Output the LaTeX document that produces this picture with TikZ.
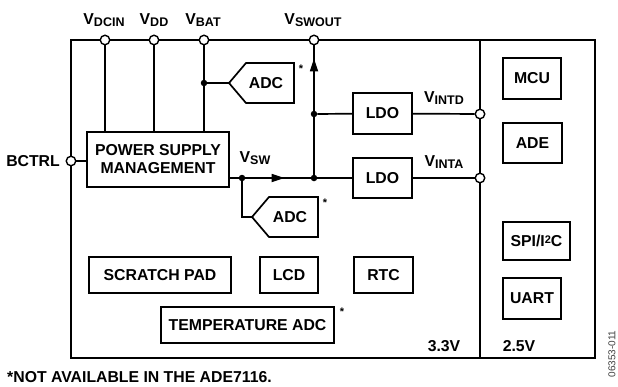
\documentclass[tikz,border=0pt]{standalone}
\usepackage{fontspec}
\setmainfont{Liberation Sans}
\usetikzlibrary{arrows.meta,decorations.markings}
\newcommand\Vsub[1]{V\raisebox{-2pt}{\fontsize{12.5}{12.5}\selectfont #1}}
\begin{document}
\begin{tikzpicture}[x=1pt,y=-1pt,
  font=\fontsize{15.8}{18}\selectfont\bfseries,
  ln/.style={line width=1.7pt},
  blk/.style={draw, line width=1.7pt, inner sep=0pt, align=center},
  pinc/.style={circle, draw, fill=white, line width=1.4pt, inner sep=0pt, minimum size=9.5pt},
  jdot/.style={circle, fill, inner sep=0pt, minimum size=6.5pt},
  lbl/.style={inner sep=0pt},
  astx/.style={inner sep=0pt, font=\fontsize{11}{11}\selectfont\bfseries},
  arrowat/.style={postaction={decorate}, decoration={markings, mark=at position #1 with {\arrow{Triangle[length=13pt,width=8pt]}}}}
]
\useasboundingbox (0,0) rectangle (618,386);

% frame and divider
\draw[ln] (71,40) rectangle (595,358);
\draw[ln] (480,40) -- (480,358);

% pins
\node[pinc] (pdcin) at (105,40) {};
\node[pinc] (pdd) at (154,40) {};
\node[pinc] (pbat) at (204,40) {};
\node[pinc] (pswout) at (314,40) {};
\node[pinc] (pbctrl) at (71,161) {};
\node[pinc] (pintd) at (480,114) {};
\node[pinc] (pinta) at (480,178) {};

% pin labels
\node[lbl] (ldcin) at (104,20) {\Vsub{DCIN}};
\node[lbl] (ldd) at (154,20) {\Vsub{DD}};
\node[lbl] (lbat) at (203,20) {\Vsub{BAT}};
\node[lbl] (lswout) at (313,20) {\Vsub{SWOUT}};
\node[lbl, anchor=east] (lbctrl) at (60,161) {BCTRL};
\node[lbl] (lintd) at (444,98.5) {\Vsub{INTD}};
\node[lbl] (linta) at (444,162) {\Vsub{INTA}};
\node[lbl] (lsw) at (255,158) {\Vsub{SW}};

% blocks
\node[blk, minimum width=142pt, minimum height=55pt] (psm) at (158,159.5) {POWER SUPPLY\\MANAGEMENT};
\node[blk, minimum width=59pt, minimum height=41pt] (ldo1) at (382.5,113.5) {LDO};
\node[blk, minimum width=59pt, minimum height=40pt] (ldo2) at (382.5,178) {LDO};
\node[blk, minimum width=58pt, minimum height=41pt] (mcu) at (532,78.5) {MCU};
\node[blk, minimum width=59pt, minimum height=40pt] (ade) at (532.5,143) {ADE};
\node[blk, minimum width=67pt, minimum height=38pt] (spi) at (536.5,241) {SPI/I\raisebox{3pt}{\fontsize{11}{11}\selectfont 2}C};
\node[blk, minimum width=58pt, minimum height=41pt] (uart) at (532,298.5) {UART};
\node[blk, minimum width=142pt, minimum height=36pt] (scratch) at (160,275) {SCRATCH PAD};
\node[blk, minimum width=58pt, minimum height=36pt] (lcd) at (289,275) {LCD};
\node[blk, minimum width=59pt, minimum height=36pt] (rtc) at (383.5,275) {RTC};
\node[blk, minimum width=173pt, minimum height=36pt] (temp) at (247.5,325) {TEMPERATURE ADC};

% ADC pentagons
\coordinate (adc1tip) at (229,83);
\draw[ln, line join=miter] (adc1tip) -- (246,63) -- (294,63) -- (294,103) -- (246,103) -- cycle;
\node[lbl] (adc1) at (266,83) {ADC};
\coordinate (adc2tip) at (252,217);
\draw[ln, line join=miter] (adc2tip) -- (269,197) -- (318,197) -- (318,237) -- (269,237) -- cycle;
\node[lbl] (adc2) at (290,217) {ADC};

% asterisks
\node[astx] (ast1) at (301,69) {*};
\node[astx] (ast2) at (325,203) {*};
\node[astx] (ast3) at (342,312) {*};

% junctions
\node[jdot] (jbat) at (204,83) {};
\node[jdot] (jsw1) at (242,178) {};
\node[jdot] (jsw2) at (314,178) {};
\node[jdot] (jout) at (314,114) {};
\coordinate (psmout) at (229,178);

% connectors
\draw[ln] (pdcin) -- (pdcin |- psm.north);
\draw[ln] (pdd) -- (pdd |- psm.north);
\draw[ln] (pbat) -- (pbat |- psm.north);
\draw[ln] (jbat) -- (adc1tip);
\draw[ln] (pbctrl) -- (pbctrl -| psm.west);
\draw[ln] (psmout) -- (jsw1);
\draw[ln, arrowat=0.6] (jsw1) -- (jsw2);
\draw[ln] (jsw2) -- (ldo2);
\draw[ln] (jsw1) |- (adc2tip);
\draw[ln, arrowat=0.9] (jsw2) -- (pswout);
\draw[ln] (jout) -- (ldo1);
\draw[ln] (ldo1) -- (pintd);
\draw[ln] (ldo2) -- (pinta);

% voltage domain labels
\node[lbl] (v33) at (444,346) {3.3V};
\node[lbl] (v25) at (519,346) {2.5V};

% footnote and figure number
\node[lbl, anchor=west] (note) at (7,377) {*NOT AVAILABLE IN THE ADE7116.};
\node[lbl, rotate=90, font=\fontsize{10}{10}\selectfont, text=black!75] (fignum) at (612,354) {06353-011};
\end{tikzpicture}
\end{document}
